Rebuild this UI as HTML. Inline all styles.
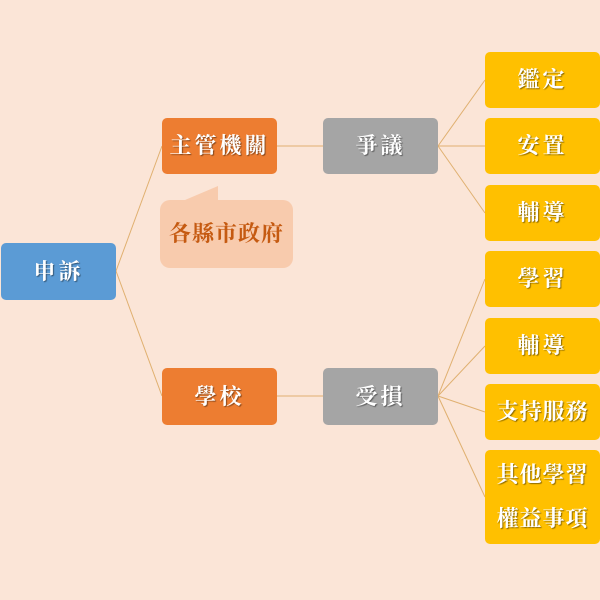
<!DOCTYPE html>
<html><head><meta charset="utf-8"><style>
body{margin:0;width:600px;height:600px;background:#fbe5d7;position:relative;overflow:hidden;font-family:"Liberation Serif","Noto Serif CJK SC",serif;}
.b{position:absolute;border-radius:5px;color:#fff;font-size:22px;font-weight:bold;display:flex;align-items:center;justify-content:center;text-align:center;letter-spacing:3px;text-shadow:1px 1px 1px rgba(0,0,0,.45);line-height:44px;}
.bl{background:#5b9bd5}.or{background:#ed7d31}.gr{background:#a5a5a5}.ye{background:#ffc000}
svg{position:absolute;left:0;top:0}
</style></head><body>
<svg width="600" height="600">
<g stroke="#e0b070" stroke-width="1" fill="none">
<line x1="116" y1="271" x2="162" y2="146"/><line x1="116" y1="271" x2="162" y2="396"/>
<line x1="277" y1="146" x2="323" y2="146"/><line x1="277" y1="396" x2="323" y2="396"/>
<line x1="438" y1="146" x2="485" y2="80"/><line x1="438" y1="146" x2="485" y2="146"/><line x1="438" y1="146" x2="485" y2="213"/>
<line x1="438" y1="396" x2="485" y2="279"/><line x1="438" y1="396" x2="485" y2="346"/><line x1="438" y1="396" x2="485" y2="412"/><line x1="438" y1="396" x2="485" y2="497"/>
</g>
<path d="M185 200 L218 186 L218 200 Z" fill="#f8cbad"/>
</svg>
<div class="b bl" style="left:1px;top:243px;width:115px;height:57px">申訴</div>
<div class="b or" style="left:162px;top:118px;width:115px;height:56px">主管機關</div>
<div class="b or" style="left:162px;top:368px;width:115px;height:57px">學校</div>
<div class="b gr" style="left:323px;top:118px;width:115px;height:56px">爭議</div>
<div class="b gr" style="left:323px;top:368px;width:115px;height:57px">受損</div>
<div class="b" style="left:160px;top:200px;width:133px;height:68px;background:#f8cbad;color:#c55a11;text-shadow:none;border-radius:10px;letter-spacing:1px">各縣市政府</div>
<div class="b ye" style="left:485px;top:52px;width:115px;height:56px">鑑定</div>
<div class="b ye" style="left:485px;top:118px;width:115px;height:56px">安置</div>
<div class="b ye" style="left:485px;top:185px;width:115px;height:56px">輔導</div>
<div class="b ye" style="left:485px;top:251px;width:115px;height:56px">學習</div>
<div class="b ye" style="left:485px;top:318px;width:115px;height:56px">輔導</div>
<div class="b ye" style="left:485px;top:384px;width:115px;height:56px;letter-spacing:1px">支持服務</div>
<div class="b ye" style="left:485px;top:450px;width:115px;height:94px;letter-spacing:1px">其他學習<br>權益事項</div>
</body></html>
